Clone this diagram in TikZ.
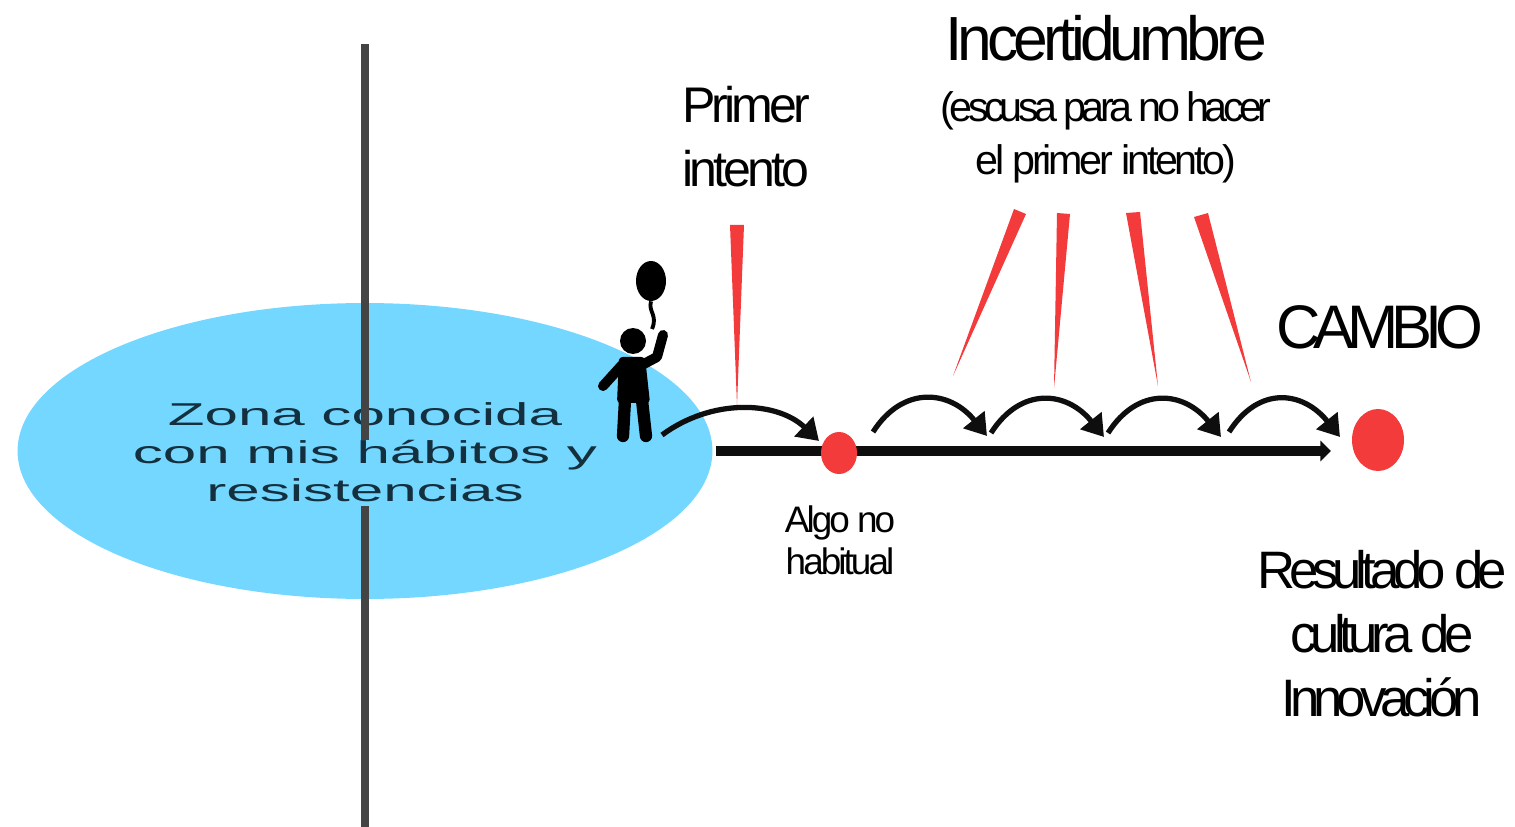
\documentclass[tikz,border=0pt]{standalone}
\usepackage{fontspec}
\setmainfont[LetterSpace=-8]{Liberation Sans}
\newfontfamily\widefont{Liberation Sans}
\newfontfamily\tightfont[LetterSpace=-11.5]{Liberation Sans}
\usetikzlibrary{shapes.geometric,arrows.meta}
\definecolor{zoneblue}{HTML}{73D7FF}
\definecolor{spikered}{HTML}{F43B3B}
\definecolor{barblack}{HTML}{0E0E0E}
\definecolor{bargray}{HTML}{444444}
\definecolor{zonetext}{HTML}{14303E}
\tikzstyle{zone}=[ellipse,fill=zoneblue,minimum width=13.9cm,minimum height=5.92cm,inner sep=0pt]
\tikzstyle{reddot}=[ellipse,fill=spikered,inner sep=0pt]
\tikzstyle{caption}=[align=center,inner sep=0pt,text=black]
\tikzstyle{zonelabel}=[align=center,inner sep=0pt,text=zonetext,font=\widefont\fontsize{18}{21.5}\selectfont,xscale=1.9,transform shape]
\tikzstyle{spike}=[fill=spikered]
\tikzstyle{hop}=[draw=barblack,line width=3pt,-{Triangle[length=12pt,width=15pt]}]
\tikzstyle{axisline}=[draw=barblack,line width=5.7pt,-{Triangle[length=6pt,width=11.5pt]}]
\tikzstyle{wall}=[draw=bargray,line width=5pt]
\tikzstyle{limb}=[draw=black,line width=5.7pt,line cap=round,line join=round]
\begin{document}
\begin{tikzpicture}[x=0.02cm,y=-0.02cm]
  \useasboundingbox (0,0) rectangle (1515,827);
  % The known zone and its text
  \node[zone] (known) at (365,451) {};
  \node[zonelabel] (knownlabel) at (365,452) {Zona conocida\\con mis hábitos y\\resistencias};
  % The wall in two pieces
  \foreach \px/\py/\name in {365/44/walla, 365/440/wallb, 365/506/wallc, 365/827/walld}
    \coordinate (\name) at (\px,\py);
  \foreach \source/\dest in {walla/wallb, wallc/walld}
    \path[wall] (\source) -- (\dest);
  % Then the line with its two dots
  \coordinate (axisstart) at (716,451);
  \coordinate (axisend) at (1331,451);
  \path[axisline] (axisstart) -- (axisend);
  \node[reddot,minimum width=0.72cm,minimum height=0.84cm] (first) at (839,453) {};
  \node[reddot,minimum width=1.04cm,minimum height=1.24cm] (result) at (1378,440) {};
  % The red spikes
  \foreach \a/\b/\c in {{(730,225)/(744,225)/(737,405)}, {(1014,209)/(1026,214)/(953,376)}, {(1057,213)/(1070,214)/(1054,388)}, {(1126,213)/(1140,212)/(1158,386)}, {(1194,217)/(1208,213)/(1251,382)}}
    \fill[spike] \a -- \b -- \c -- cycle;
  % Jumps along the line
  \foreach \px/\py/\name in {662/435/ja, 819/441/jb, 873/432/jc, 987/436/jd, 991/433/je, 1104/437/jf, 1108/433/jg, 1221/437/jh, 1229/432/ji, 1340/437/jj}
    \coordinate (\name) at (\px,\py);
  \path[hop] (ja) .. controls (712,398) and (777,401) .. (jb);
  \foreach \source/\dest in {jc/jd, je/jf, jg/jh, ji/jj}
    \path[hop] (\source) .. controls +(30,-47) and +(-37,-46) .. (\dest);
  % Child with the balloon
  \node[ellipse,fill=black,minimum width=0.6cm,minimum height=0.8cm,inner sep=0pt] (balloon) at (651,281) {};
  \node[circle,fill=black,minimum size=0.52cm,inner sep=0pt] (head) at (633,341) {};
  \draw[black,line width=2.2pt] (balloon.south) .. controls (648,312) and (658,315) .. (652,329);
  \fill[black,rounded corners=2pt] (619,357) -- (645,357) -- (650,403) -- (617,403) -- cycle;
  \draw[limb] (603,386) -- (622,365);
  \draw[limb] (663,335) -- (657,357) -- (640,366);
  \draw[limb,line width=7pt] (625,400) -- (623,436);
  \draw[limb,line width=7pt] (642,400) -- (646,436);
  % Labels
  \node[caption,font=\fontsize{35.5}{36}\selectfont] (doubt) at (1106,38) {Incertidumbre};
  \node[caption,font=\fontsize{23.5}{30}\selectfont] (excuse) at (1106,137) {{\tightfont (escusa para no hacer}\\el primer intento)};
  \node[caption,font=\fontsize{28.5}{36.4}\selectfont] (try) at (746,137) {Primer\\intento};
  \node[caption,font=\tightfont\fontsize{35}{38}\selectfont] (change) at (1380,327) {CAMBIO};
  \node[caption,font=\fontsize{21}{24}\selectfont] (odd) at (840,540) {Algo no\\habitual};
  \node[caption,font=\tightfont\fontsize{30}{36.4}\selectfont] (culture) at (1382,634) {Resultado de\\cultura de\\Innovación};
\end{tikzpicture}
\end{document}
